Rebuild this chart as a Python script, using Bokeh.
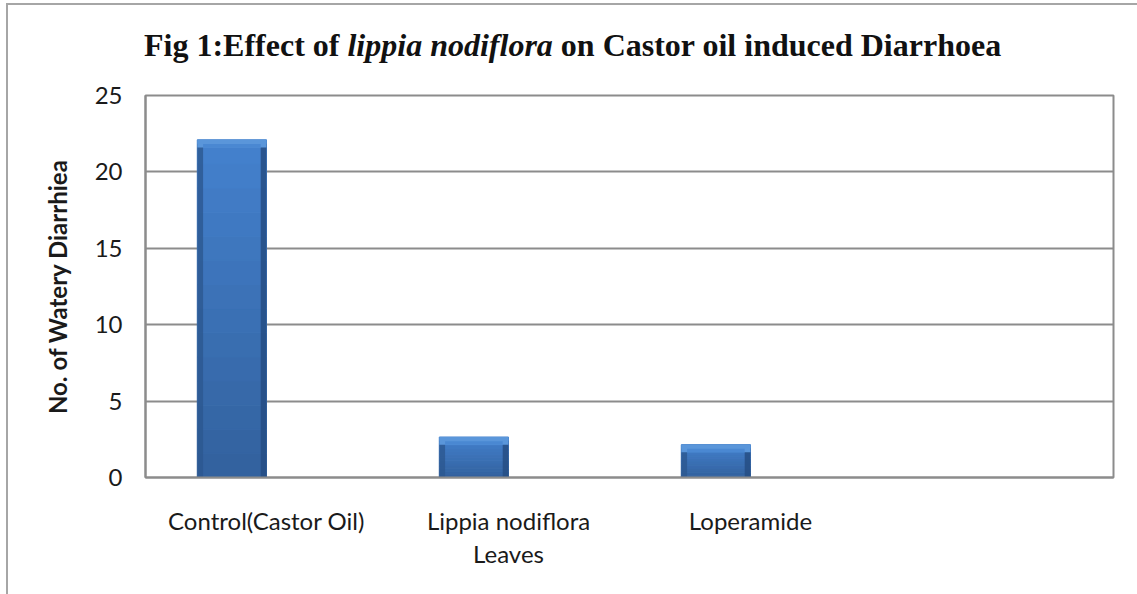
from bokeh.plotting import figure
from bokeh.models import Div, FixedTicker, Range1d
from bokeh.layouts import column
from bokeh.embed import file_html
from bokeh.resources import INLINE

# ---- data ----
categories = ["Control(Castor Oil)", "Lippia nodiflora\nLeaves", "Loperamide", ""]
values = [22.1, 2.65, 2.15]
y_ticks = [0, 5, 10, 15, 20, 25]

n_cat = len(categories)
bar_w = 0.286
offset = -0.143

p = figure(width=1127, height=519, output_backend="svg", toolbar_location=None,
           x_range=Range1d(0, n_cat), y_range=Range1d(0, 25),
           min_border_left=137, min_border_right=22, min_border_top=20, min_border_bottom=117)

xs = [i + 0.5 + offset for i in range(len(values))]

# gradient body via slices
N = 14
def lerp(c1, c2, t):
    a = [int(c1[i:i+2], 16) for i in (1, 3, 5)]
    b = [int(c2[i:i+2], 16) for i in (1, 3, 5)]
    return "#" + "".join(f"{int(round(a[k] + (b[k]-a[k])*t)):02x}" for k in range(3))

for k in range(N):
    t = k / (N - 1)
    col = lerp("#33629f", "#4380cc", t)
    p.vbar(x=xs, width=bar_w, bottom=[v * k / N for v in values], top=[v * (k + 1) / N for v in values],
           fill_color=col, line_color=col, line_width=1)

cap = 0.5
side = 0.024
p.vbar(x=[x - bar_w / 2 + side / 2 for x in xs], width=side, bottom=0, top=[v - cap * 0.5 for v in values],
       fill_color="#2c5790", fill_alpha=0.8, line_color=None)
p.vbar(x=[x + bar_w / 2 - side / 2 for x in xs], width=side, bottom=0, top=[v - cap * 0.5 for v in values],
       fill_color="#264d84", fill_alpha=0.85, line_color=None)
p.vbar(x=xs, width=bar_w, bottom=[v - cap for v in values], top=values,
       fill_color="#5a96da", line_color=None)
p.vbar(x=xs, width=bar_w - 2 * side, bottom=[v - cap for v in values], top=[v - cap * 0.55 for v in values],
       fill_color="#4a88d2", line_color=None)

# axes
p.xaxis.ticker = FixedTicker(ticks=[i + 0.5 for i in range(n_cat)])
p.xaxis.major_label_overrides = {i + 0.5: c for i, c in enumerate(categories)}
p.xaxis.major_label_text_font = "Lato"
p.xaxis.major_label_text_font_size = "24px"
p.xaxis.major_label_text_color = "#1a1a1a"
p.xaxis.major_label_text_line_height = 1.15
p.xaxis.major_label_standoff = 22
p.xaxis.major_tick_line_color = None
p.xaxis.minor_tick_line_color = None
p.xaxis.axis_line_color = "#8c8c8c"
p.xaxis.axis_line_width = 2

p.yaxis.ticker = FixedTicker(ticks=y_ticks)
p.yaxis.major_label_text_font = "Lato"
p.yaxis.major_label_text_font_size = "24px"
p.yaxis.major_label_text_color = "#1a1a1a"
p.yaxis.major_label_standoff = 17
p.yaxis.major_tick_line_color = None
p.yaxis.minor_tick_line_color = None
p.yaxis.axis_line_color = "#8c8c8c"
p.yaxis.axis_line_width = 2
p.yaxis.axis_label = "No. of Watery Diarrhiea"
p.yaxis.axis_label_text_font = "Lato"
p.yaxis.axis_label_text_font_style = "bold"
p.yaxis.axis_label_text_font_size = "24px"
p.yaxis.axis_label_text_color = "#1a1a1a"
p.yaxis.axis_label_standoff = 20

p.xgrid.grid_line_color = None
p.ygrid.grid_line_color = "#8c8c8c"
p.ygrid.grid_line_width = 2
p.outline_line_color = "#8c8c8c"
p.outline_line_width = 2
p.background_fill_color = "white"
p.border_fill_color = "white"

title = Div(
    text=("<div style=\"font-family:'Liberation Serif';font-weight:bold;font-size:32px;line-height:1;"
          "color:#111;padding-left:131px;padding-top:19px;white-space:nowrap\">"
          "Fig 1:Effect of <i>lippia nodiflora</i> on Castor oil induced Diarrhoea</div>"),
    width=1127, height=60)

layout = column(title, p, styles={"border-left": "2px solid #a6a6a6", "border-top": "2px solid #a6a6a6",
                                  "margin-left": "6px", "margin-top": "3px"},
                spacing=0)

open("out.html", "w").write(file_html(layout, INLINE))
